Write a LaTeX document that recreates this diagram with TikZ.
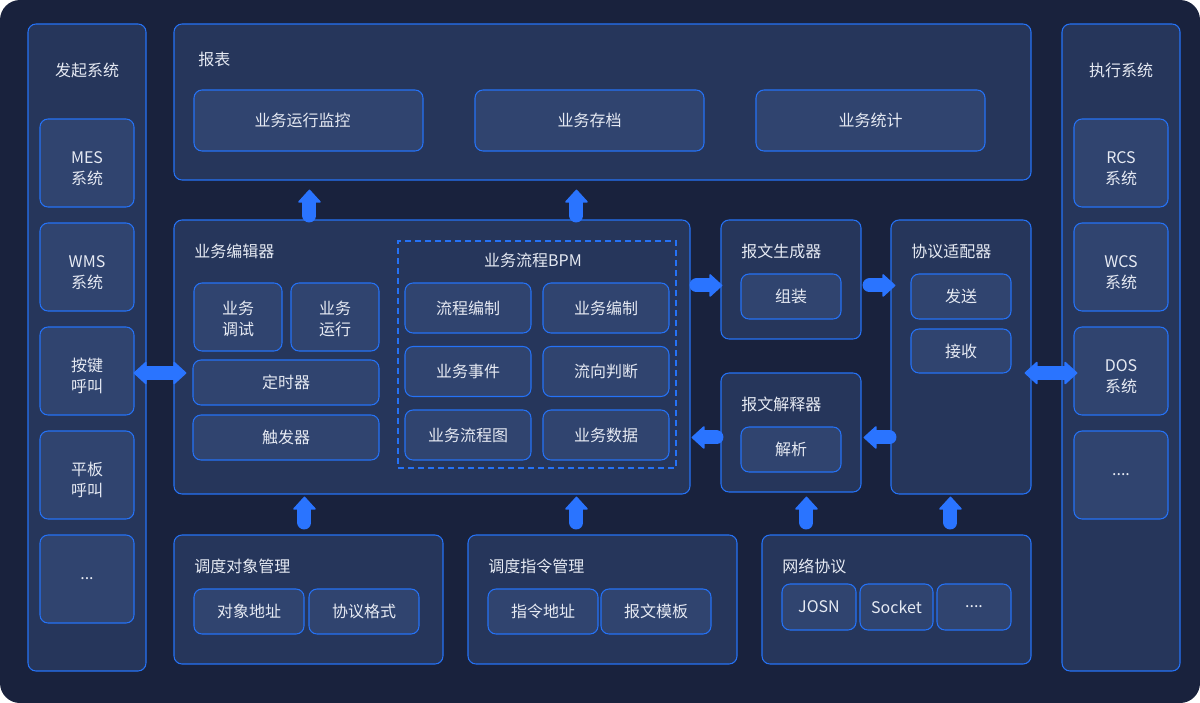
\documentclass[tikz,border=0pt]{standalone}
\usepackage{fontspec}
\setmainfont{Noto Sans CJK SC}
\usepackage{tikz}
\usetikzlibrary{calc,arrows.meta}

\definecolor{bgnavy}{HTML}{19223D}
\definecolor{panelfill}{HTML}{26365B}
\definecolor{boxfill}{HTML}{30446F}
\definecolor{edgeblue}{HTML}{2572F6}
\definecolor{arrowblue}{HTML}{2A74FF}
\definecolor{textwhite}{HTML}{E6EAF3}

\newcommand{\twoline}[3][-5pt]{\raisebox{#1}[\height][\depth]{\begin{tabular}{@{}c@{}}#2\\#3\end{tabular}}}

\tikzset{
    panel/.style={draw=edgeblue, fill=panelfill, rounded corners=6pt, line width=0.8pt},
    box/.style={draw=edgeblue, fill=boxfill, rounded corners=6pt, line width=0.8pt, text=textwhite, align=center},
    sz/.style 2 args={minimum width=#1*0.75pt, minimum height=#2*0.75pt, inner sep=0pt},
    title/.style={text=textwhite, inner sep=0pt},
    fattip/.tip={Triangle[width=18pt, length=10pt, line width=1pt, round]},
    fatarrow/.style={arrowblue, line width=10.5pt, line cap=round, -fattip},
    fatboth/.style={arrowblue, line width=10.5pt, fattip-fattip}
}

\begin{document}
\begin{tikzpicture}[x=0.75pt, y=-0.75pt, font=\fontsize{12}{15.75}\selectfont]
    \fill[white] (0,0) rectangle (1200,703);
    \fill[bgnavy, rounded corners=15pt] (0,0) rectangle (1200,703);
    
    % left column
    \node[panel, sz={118}{647}] (init) at (87,347.5) {};
    \node[title] (initt) at (87,70) {发起系统};
    \node[box, sz={94}{88}] (mes) at (87,163) {\twoline{MES}{系统}};
    \node[box, sz={94}{88}] (wms) at (87,267) {\twoline{WMS}{系统}};
    \node[box, sz={94}{88}] (key) at (87,371) {\twoline{按键}{呼叫}};
    \node[box, sz={94}{88}] (pad) at (87,475) {\twoline{平板}{呼叫}};
    \node[box, sz={94}{88}] (imore) at (87,579) {...};
    
    % right column
    \node[panel, sz={118}{647}] (exec) at (1121,347.5) {};
    \node[title] (exect) at (1121,70) {执行系统};
    \node[box, sz={94}{88}] (rcs) at (1121,163) {\twoline{RCS}{系统}};
    \node[box, sz={94}{88}] (wcs) at (1121,267) {\twoline{WCS}{系统}};
    \node[box, sz={94}{88}] (dos) at (1121,371) {\twoline{DOS}{系统}};
    \node[box, sz={94}{88}] (emore) at (1121,475) {....};
    
    % report
    \node[panel, sz={857}{156}] (report) at (602.5,102) {};
    \node[title, anchor=west] (reportt) at (198,59) {报表};
    \node[box, sz={229}{61}] (monitor) at (308.5,120.5) {\hspace*{-9pt}业务运行监控};
    \node[box, sz={229}{61}] (archive) at (589.5,120.5) {业务存档};
    \node[box, sz={229}{61}] (stats) at (870.5,120.5) {业务统计};
    
    % editor
    \node[panel, sz={516}{274}] (edit) at (432,357) {};
    \node[title, anchor=west] (editt) at (194,251) {业务编辑器};
    \node[box, sz={88}{68}] (debug) at (238,317) {\twoline[-3pt]{业务}{调试}};
    \node[box, sz={88}{68}] (run) at (335,317) {\twoline[-3pt]{业务}{运行}};
    \node[box, sz={186}{45}] (timer) at (286,382.5) {定时器};
    \node[box, sz={186}{45}] (trigger) at (286,437.5) {触发器};
    
    \node[draw=edgeblue, dashed, dash pattern=on 4.5pt off 3pt, line width=0.8pt, sz={278}{227}] (bpm) at (537,354.5) {};
    \node[title] (bpmt) at (533,260) {业务流程BPM};
    \node[box, sz={126}{50}] (flowedit) at (468,308) {流程编制};
    \node[box, sz={126}{50}] (bizedit) at (606,308) {业务编制};
    \node[box, sz={126}{50}] (event) at (468,371.5) {业务事件};
    \node[box, sz={126}{50}] (judge) at (606,371.5) {流向判断};
    \node[box, sz={126}{50}] (chart) at (468,435) {业务流程图};
    \node[box, sz={126}{50}] (data) at (606,435) {业务数据};
    
    % message
    \node[panel, sz={140}{119}] (gen) at (791,279.5) {};
    \node[title, anchor=west] (gent) at (741,251) {报文生成器};
    \node[box, sz={100}{45}] (pack) at (791,296.5) {组装};
    
    \node[panel, sz={140}{119}] (parse) at (791,432.5) {};
    \node[title, anchor=west] (parset) at (741,404) {报文解释器};
    \node[box, sz={100}{45}] (decode) at (791,449.5) {解析};
    
    \node[panel, sz={140}{274}] (adapter) at (961,357) {};
    \node[title, anchor=west] (adaptert) at (911,251) {协议适配器};
    \node[box, sz={100}{45}] (send) at (961,296.5) {发送};
    \node[box, sz={100}{44}] (recv) at (961,351) {接收};
    
    % bottom
    \node[panel, sz={269}{129}] (obj) at (308.5,599.5) {};
    \node[title, anchor=west] (objt) at (194,566) {调度对象管理};
    \node[box, sz={110}{45}] (objaddr) at (249,611.5) {对象地址};
    \node[box, sz={110}{45}] (format) at (364,611.5) {协议格式};
    
    \node[panel, sz={269}{129}] (cmd) at (602.5,599.5) {};
    \node[title, anchor=west] (cmdt) at (488,566) {调度指令管理};
    \node[box, sz={110}{45}] (cmdaddr) at (543,611.5) {指令地址};
    \node[box, sz={110}{45}] (tmpl) at (656,611.5) {报文模板};
    
    \node[panel, sz={269}{129}] (net) at (896.5,599.5) {};
    \node[title, anchor=west] (nett) at (782,566) {网络协议};
    \node[box, sz={74}{46}] (josn) at (819,607) {JOSN};
    \node[box, sz={73}{46}] (socket) at (896.5,607) {Socket};
    \node[box, sz={74}{46}] (nmore) at (974,607) {....};
    
    
    
    \draw[fatarrow] ($(edit.north west)+(136,-4)$) -- ($(report.south west)+(136,9)$);
    \draw[fatarrow] ($(edit.north west)+(403,-4)$) -- ($(report.south west)+(403,9)$);
    \draw[fatarrow] ($(edit.north east)+(6,66)$) -- ($(gen.north west)+(2,66)$);
    \draw[fatarrow] ($(gen.north east)+(8,66)$) -- ($(adapter.north west)+(5,66)$);
    \draw[fatarrow] ($(adapter.north west)+(-1,218)$) -- ($(parse.north east)+(2,65)$);
    \draw[fatarrow] ($(parse.north west)+(-4,65)$) -- ($(edit.north east)+(1,218)$);
    \draw[fatboth] ($(init.east)+(-13,25.5)$) -- ($(edit.west)+(13,16)$);
    \draw[fatboth] ($(adapter.east)+(-7,16)$) -- ($(exec.west)+(16,25.5)$);
    \draw[fatarrow] ($(obj.north west)+(131,-12)$) -- ($(edit.south west)+(131,2)$);
    \draw[fatarrow] ($(cmd.north west)+(109,-12)$) -- ($(edit.south west)+(403,2)$);
    \draw[fatarrow] ($(net.north west)+(45,-12)$) -- ($(parse.south west)+(86,4)$);
    \draw[fatarrow] ($(net.north west)+(189,-12)$) -- ($(adapter.south west)+(60,2)$);
    
\end{tikzpicture}
\end{document}
